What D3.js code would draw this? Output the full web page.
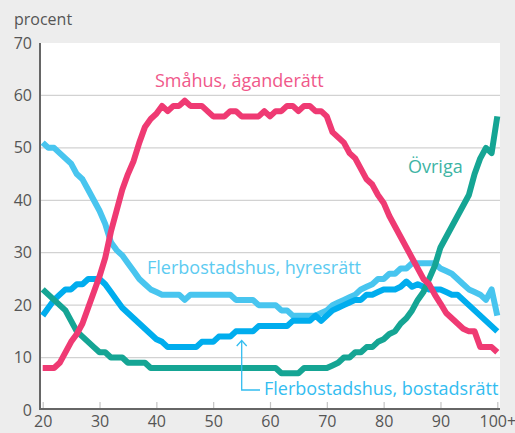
<!DOCTYPE html>
<html>
<head>
<meta charset="utf-8">
<script src="https://cdn.jsdelivr.net/npm/d3@7"></script>
<style>
  html, body { margin: 0; padding: 0; background: #ededed; }
  svg { display: block; font-family: "Open Sans", "Noto Sans", sans-serif; }
</style>
</head>
<body>
<svg id="chart" width="515" height="433"></svg>
<script>
// ages 20..100+
const ages = d3.range(20, 101);
const xTicks = [20, 30, 40, 50, 60, 70, 80, 90, 100];
const xTickLabels = ["20", "30", "40", "50", "60", "70", "80", "90", "100+"];
const yTicks = [0, 10, 20, 30, 40, 50, 60, 70];

// Småhus, äganderätt
const smahus = [8, 8, 8, 9, 11, 13, 14.5, 16.5, 19.5, 22.5,
  25.5, 29, 34, 38, 42, 45, 47.5, 51, 54, 55.5,
  56.5, 58, 57, 58, 58, 59, 58, 58, 58, 57,
  56, 56, 56, 57, 57, 56, 56, 56, 56, 57,
  56, 57, 57, 58, 58, 57, 58, 58, 57, 57,
  56, 53, 52, 51, 49, 48, 46, 44, 43, 41,
  39.5, 37, 35, 33, 31, 29, 27, 25, 24, 22,
  20.3, 18.5, 17.5, 16.5, 15.5, 15, 15, 12, 12, 12,
  11];

// Flerbostadshus, hyresrätt
const hyresratt = [51, 50, 50, 49, 48, 47, 45, 44, 42, 40,
  38, 35.5, 32, 30.5, 29.5, 28, 26.5, 25, 24, 23,
  22.5, 22, 22, 22, 22, 21, 22, 22, 22, 22,
  22, 22, 22, 22, 21, 21, 21, 21, 20, 20,
  20, 20, 19, 19, 18, 18, 18, 18, 18, 18.5,
  19, 20, 20.5, 21, 21.5, 22, 23, 23.5, 24, 25,
  25, 26, 26, 27, 27, 28, 28, 28, 28, 28,
  27, 26.5, 26, 25, 24, 23, 22.5, 22, 21, 23,
  18];

// Flerbostadshus, bostadsrätt
const bostadsratt = [18, 19.5, 21, 22, 23, 23, 24, 24, 25, 25,
  25, 24, 22.5, 21, 19.5, 18.5, 17.5, 16.5, 15.5, 14.5,
  13.5, 13, 12, 12, 12, 12, 12, 12, 13, 13,
  13, 14, 14, 14, 15, 15, 15, 15, 16, 16,
  16, 16, 16, 16, 17, 17, 17, 17, 18, 17,
  18, 19, 19.5, 20, 20.5, 21, 21, 22, 22, 22.5,
  23, 23, 23, 23.5, 24.5, 23.5, 24, 23.5, 23, 23,
  23, 22.5, 22, 22, 21, 20, 19, 18, 17, 16,
  15];

// Övriga
const ovriga = [23, 22, 21, 20, 19, 17, 15, 14, 13, 12,
  11, 11, 10, 10, 10, 9, 9, 9, 9, 8,
  8, 8, 8, 8, 8, 8, 8, 8, 8, 8,
  8, 8, 8, 8, 8, 8, 8, 8, 8, 8,
  8, 8, 7, 7, 7, 7, 8, 8, 8, 8,
  8, 8.5, 9, 10, 10, 11, 11, 12, 12, 13,
  13.5, 14.5, 15, 16.5, 17.5, 19, 21, 22.5, 25, 27.5,
  31, 33, 35, 37, 39, 41, 45, 48, 50, 49,
  56];

const series = [
  { name: "Flerbostadshus, hyresrätt", values: hyresratt, color: "#48c5ef" },
  { name: "Flerbostadshus, bostadsrätt", values: bostadsratt, color: "#00adee" },
  { name: "Övriga", values: ovriga, color: "#15a594" },
  { name: "Småhus, äganderätt", values: smahus, color: "#ef3a73" }
];

const svg = d3.select("#chart");
const plot = { left: 40, right: 500, top: 43, bottom: 410 };

const x = d3.scaleLinear().domain([20, 100]).range([42.7, 497.3]);
const y = d3.scaleLinear().domain([0, 70]).range([plot.bottom, plot.top]);

// plot background
svg.append("rect")
  .attr("x", plot.left)
  .attr("y", plot.top)
  .attr("width", plot.right - plot.left)
  .attr("height", plot.bottom - plot.top)
  .attr("fill", "#fff");

// gridlines
svg.append("g")
  .selectAll("line")
  .data(yTicks.filter(d => d > 0 && d < 70))
  .join("line")
  .attr("x1", plot.left)
  .attr("x2", plot.right)
  .attr("y1", d => y(d))
  .attr("y2", d => y(d))
  .attr("stroke", "#d2d2d2")
  .attr("stroke-width", 1.2);

// y axis labels
const yAxis = svg.append("g")
  .attr("transform", `translate(${plot.left},0)`)
  .call(d3.axisLeft(y).tickValues(yTicks).tickSize(0).tickPadding(8));
yAxis.select(".domain").remove();
yAxis.selectAll("text")
  .attr("font-size", 16)
  .attr("font-family", "Open Sans, sans-serif")
  .attr("fill", "#555");

// x axis: ticks pointing up into the plot
const xAxis = svg.append("g")
  .attr("transform", `translate(0,${plot.bottom - 1})`)
  .call(d3.axisBottom(x).tickValues(xTicks).tickFormat((d, i) => xTickLabels[i]).tickSize(0));
xAxis.select(".domain").remove();
xAxis.selectAll("text")
  .attr("y", 18)
  .attr("dy", 0)
  .attr("font-size", 16)
  .attr("font-family", "Open Sans, sans-serif")
  .attr("fill", "#555");
xAxis.selectAll(".tick").append("line")
  .attr("y1", 0)
  .attr("y2", -7)
  .attr("stroke", "#c4c4c4")
  .attr("stroke-width", 1.2);

// axis lines
svg.append("line")
  .attr("x1", plot.left).attr("x2", plot.left)
  .attr("y1", plot.top).attr("y2", plot.bottom)
  .attr("stroke", "#666").attr("stroke-width", 2);
svg.append("line")
  .attr("x1", plot.left - 1).attr("x2", plot.right)
  .attr("y1", plot.bottom - 1).attr("y2", plot.bottom - 1)
  .attr("stroke", "#666").attr("stroke-width", 2);

// unit label
svg.append("text")
  .attr("x", 14)
  .attr("y", 25)
  .attr("font-size", 16)
  .attr("fill", "#555")
  .text("procent");

// series lines
const line = d3.line()
  .x((d, i) => x(ages[i]))
  .y(d => y(d));

svg.append("g")
  .selectAll("path")
  .data(series)
  .join("path")
  .attr("d", d => line(d.values))
  .attr("fill", "none")
  .attr("stroke", d => d.color)
  .attr("stroke-width", 6)
  .attr("stroke-linejoin", "round")
  .attr("stroke-linecap", "butt");

// series labels
const labels = [
  { text: "Småhus, äganderätt", x: 155, y: 87, color: "#f0588a" },
  { text: "Övriga", x: 408, y: 173, color: "#3db4a4" },
  { text: "Flerbostadshus, hyresrätt", x: 147, y: 274, color: "#5ccbf1" },
  { text: "Flerbostadshus, bostadsrätt", x: 264, y: 395, color: "#33bdf0" }
];
svg.append("g")
  .selectAll("text")
  .data(labels)
  .join("text")
  .attr("x", d => d.x)
  .attr("y", d => d.y)
  .attr("font-size", 18)
  .attr("fill", d => d.color)
  .text(d => d.text);

// leader arrow for bostadsrätt
const ax = 241.7;
svg.append("path")
  .attr("d", `M${ax},341 V390 H260`)
  .attr("fill", "none")
  .attr("stroke", "#33bdf0")
  .attr("stroke-width", 1.3);
svg.append("path")
  .attr("d", `M${ax - 5},346 L${ax},340.5 L${ax + 5},346`)
  .attr("fill", "none")
  .attr("stroke", "#33bdf0")
  .attr("stroke-width", 1.3);
</script>
</body>
</html>
